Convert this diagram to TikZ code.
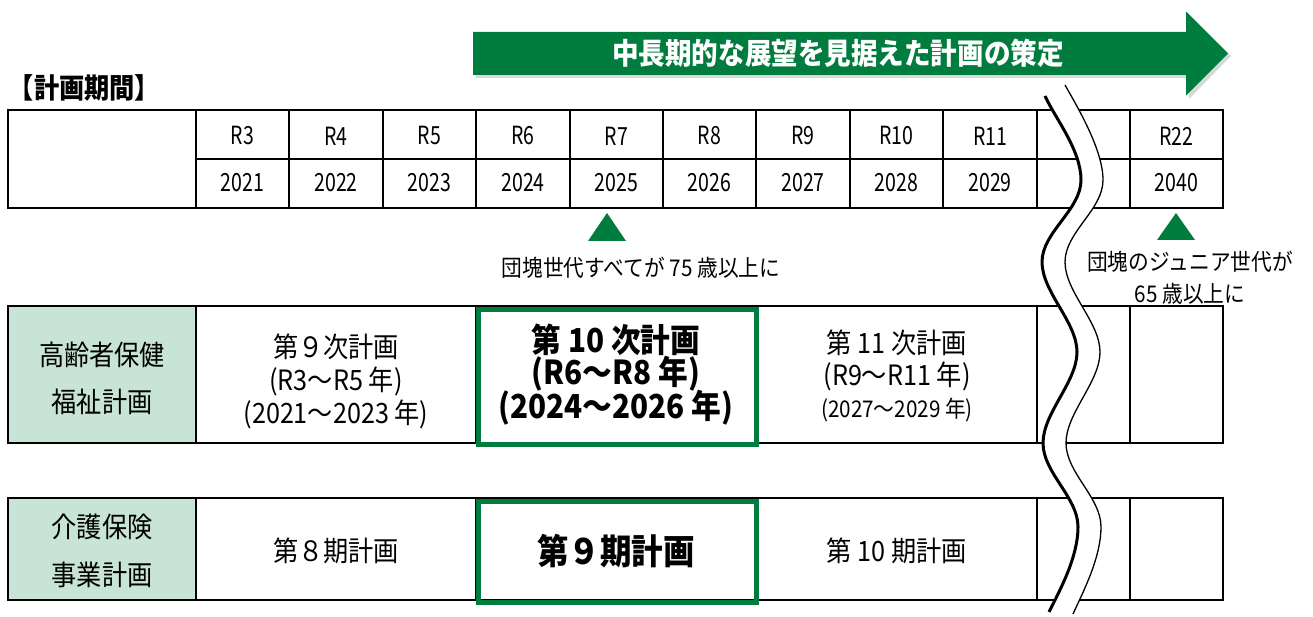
\documentclass[tikz,border=0pt]{standalone}
\usepackage{fontspec}
\setmainfont{Noto Sans CJK JP}[FakeStretch=0.9]
\newfontfamily\hdrfont{Noto Sans CJK JP}[FakeStretch=0.78]
\definecolor{kgreen}{RGB}{0,125,62}
\definecolor{lgreen}{RGB}{200,228,214}
\tikzset{
  tline/.style={line width=2pt,line join=miter},
  gbox/.style={draw=kgreen,line width=5pt},
  hdr/.style={font=\hdrfont\fontsize{25}{29}\selectfont},
  body/.style={font=\fontsize{28}{32}\selectfont},
  smalltxt/.style={font=\fontsize{23}{27}\selectfont},
  bigtxt/.style={font=\fontsize{33}{38}\selectfont\bfseries},
  biggertxt/.style={font=\fontsize{35}{40}\selectfont\bfseries},
  titletxt/.style={font=\fontsize{28}{32}\selectfont\bfseries},
  arrowtxt/.style={font=\fontsize{29.5}{34}\selectfont\bfseries,text=white},
}
\begin{document}
\begin{tikzpicture}[x=1pt,y=-1pt,every node/.style={inner sep=0pt,outer sep=0pt}]
\useasboundingbox (0,0) rectangle (1313,617);
\fill[white] (0,0) rectangle (1313,617);

% ---- big arrow ----
\fill[black!25,opacity=0.6] (476,35) -- (1189,35) -- (1189,15) -- (1231,56) -- (1189,99) -- (1189,78) -- (476,78) -- cycle;
\fill[kgreen] (473,32) -- (1186,32) -- (1186,11.5) -- (1228,53.5) -- (1186,95.5) -- (1186,75) -- (473,75) -- cycle;
\node[arrowtxt] (arrowlabel) at (838,53) {中長期的な展望を見据えた計画の策定};

% ---- title ----
\node[titletxt,anchor=west] (title) at (9,88) {【計画期間】};

% ---- header table ----
\draw[tline] (8,110) rectangle (1223,208);
\draw[tline] (196,159) -- (1223,159);
\foreach \x in {196,289,383,476,570,663,756,850,943,1037,1130}
  \draw[tline] (\x,110) -- (\x,208);
\foreach \r/\y/\x in {R3/2021/242.5,R4/2022/336,R5/2023/429.5,R6/2024/523,R7/2025/616.5,R8/2026/709.5,R9/2027/803,R10/2028/896.5,R11/2029/990,R22/2040/1176.5}{
  \node[hdr] (r\y) at (\x,136) {\r};
  \node[hdr] (y\y) at (\x,183) {\y};
}

% ---- triangles and notes ----
\fill[kgreen] (607,213) -- (626,241) -- (588,241) -- cycle;
\fill[kgreen] (1176,213) -- (1195,240) -- (1157,240) -- cycle;
\node[smalltxt] (note1) at (641,268) {団塊世代すべてが 75 歳以上に};
\node[smalltxt] (note2a) at (1190,262) {団塊のジュニア世代が};
\node[smalltxt] (note2b) at (1190,294) {65 歳以上に};

% ---- row: 高齢者保健福祉計画 ----
\fill[lgreen] (8,306) rectangle (196,443);
\draw[tline] (8,306) rectangle (1223,443);
\foreach \x in {196,476,757,1037,1130}
  \draw[tline] (\x,306) -- (\x,443);
\draw[gbox] (478.5,309.5) rectangle (756.5,444.5);

% ---- row: 介護保険事業計画 ----
\fill[lgreen] (8,498) rectangle (196,600);
\draw[tline] (8,498) rectangle (1223,600);
\foreach \x in {196,476,757,1037,1130}
  \draw[tline] (\x,498) -- (\x,600);
\draw[gbox] (478.5,501.5) rectangle (756.5,602.5);

% ---- wave (break mark) ----
\fill[white] (1045,96) .. controls (1055,118) and (1081,150) .. (1081,180)
  .. controls (1081,210) and (1042,232) .. (1042,262)
  .. controls (1042,292) and (1077,322) .. (1077,352)
  .. controls (1077,382) and (1043,413) .. (1043,443)
  .. controls (1043,473) and (1078,497) .. (1078,527)
  .. controls (1078,557) and (1060,590) .. (1049,612)
  -- (1073,614)
  .. controls (1084,590) and (1101,557) .. (1101,527)
  .. controls (1101,497) and (1066,473) .. (1066,443)
  .. controls (1066,413) and (1100,382) .. (1100,352)
  .. controls (1100,322) and (1065,292) .. (1065,262)
  .. controls (1065,232) and (1103,210) .. (1103,180)
  .. controls (1103,150) and (1078,108) .. (1065,85) -- cycle;
\draw[line width=3pt] (1045,96) .. controls (1055,118) and (1081,150) .. (1081,180)
  .. controls (1081,210) and (1042,232) .. (1042,262)
  .. controls (1042,292) and (1077,322) .. (1077,352)
  .. controls (1077,382) and (1043,413) .. (1043,443)
  .. controls (1043,473) and (1078,497) .. (1078,527)
  .. controls (1078,557) and (1060,590) .. (1049,612);
\draw[line width=1.3pt] (1065,85) .. controls (1078,108) and (1103,150) .. (1103,180)
  .. controls (1103,210) and (1065,232) .. (1065,262)
  .. controls (1065,292) and (1100,322) .. (1100,352)
  .. controls (1100,382) and (1066,413) .. (1066,443)
  .. controls (1066,473) and (1101,497) .. (1101,527)
  .. controls (1101,557) and (1084,590) .. (1073,614);

% ---- texts row 1 ----
\node[body] (lab1a) at (102,355) {高齢者保健};
\node[body] (lab1b) at (102,402) {福祉計画};
\node[body] (p9a) at (336,347) {第９次計画};
\node[body] (p9b) at (336,381) {(R3～R5 年)};
\node[body] (p9c) at (336,414) {(2021～2023 年)};
\node[bigtxt] (p10a) at (616,340) {第 10 次計画};
\node[bigtxt] (p10b) at (616,374) {(R6～R8 年)};
\node[bigtxt] (p10c) at (616,408) {(2024～2026 年)};
\node[body] (p11a) at (897,343) {第 11 次計画};
\node[body] (p11b) at (897,376) {(R9～R11 年)};
\node[smalltxt] (p11c) at (897,410) {(2027～2029 年)};

% ---- texts row 2 ----
\node[body] (lab2a) at (102,527) {介護保険};
\node[body] (lab2b) at (102,575) {事業計画};
\node[body] (k8) at (336,551) {第８期計画};
\node[biggertxt] (k9) at (616,551) {第９期計画};
\node[body] (k10) at (897,551) {第 10 期計画};
\end{tikzpicture}
\end{document}
